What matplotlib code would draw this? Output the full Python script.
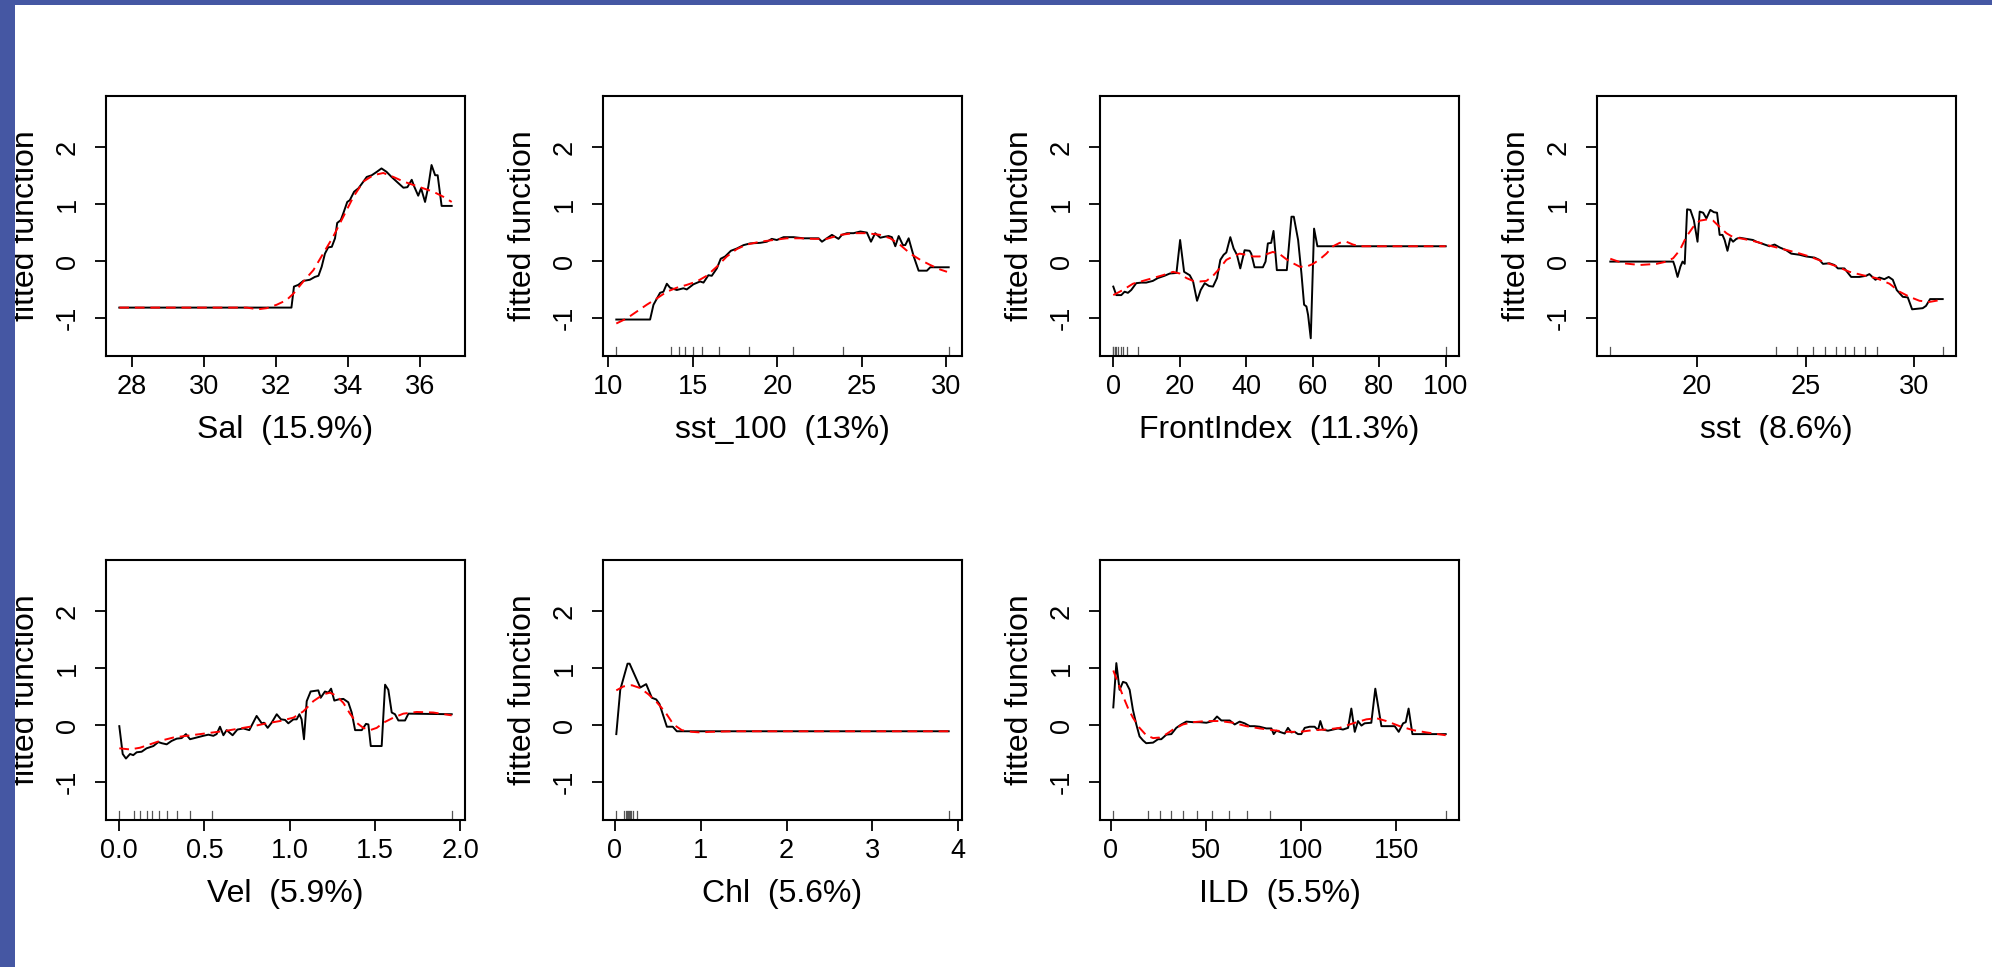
import matplotlib
matplotlib.use("Agg")
import matplotlib.pyplot as plt
from matplotlib.patches import Rectangle
import numpy as np

plt.rcParams['font.family'] = ['Liberation Sans', 'DejaVu Sans']

# ---------------- data ----------------
labels = ["Sal  (15.9%)", "sst_100  (13%)", "FrontIndex  (11.3%)", "sst  (8.6%)",
          "Vel  (5.9%)", "Chl  (5.6%)", "ILD  (5.5%)"]

xticks = [[28, 30, 32, 34, 36], [10, 15, 20, 25, 30], [0, 20, 40, 60, 80, 100],
          [20, 25, 30], [0.0, 0.5, 1.0, 1.5, 2.0], [0, 1, 2, 3, 4], [0, 50, 100, 150]]
xticklabels = [["28", "30", "32", "34", "36"], ["10", "15", "20", "25", "30"],
               ["0", "20", "40", "60", "80", "100"], ["20", "25", "30"],
               ["0.0", "0.5", "1.0", "1.5", "2.0"], ["0", "1", "2", "3", "4"],
               ["0", "50", "100", "150"]]
yticks = [-1, 0, 1, 2]

# Sal
sal_x = [27.66, 32.40, 32.44, 32.51, 32.63, 32.77, 32.95, 33.09, 33.19, 33.28, 33.37, 33.46,
         33.56, 33.65, 33.71, 33.81, 33.88, 33.99, 34.06, 34.18, 34.30, 34.44, 34.53, 34.67,
         34.81, 34.94, 35.08, 35.22, 35.41, 35.55, 35.66, 35.78, 35.85, 35.96, 36.04, 36.15,
         36.24, 36.33, 36.43, 36.50, 36.61, 36.89]
sal_y = [-0.82, -0.82, -0.82, -0.45, -0.42, -0.35, -0.33, -0.28, -0.26, -0.10, 0.13, 0.24,
         0.25, 0.40, 0.67, 0.72, 0.84, 1.04, 1.07, 1.22, 1.28, 1.40, 1.48, 1.51,
         1.57, 1.63, 1.57, 1.48, 1.37, 1.29, 1.30, 1.43, 1.31, 1.15, 1.28, 1.04,
         1.31, 1.69, 1.51, 1.51, 0.97, 0.97]
sal_sx = [27.66, 31.2, 31.5, 31.75, 32.03, 32.3, 32.5, 32.77, 33.05, 33.32, 33.6, 33.88, 34.16,
          34.44, 34.71, 34.99, 35.27, 35.55, 35.82, 36.1, 36.38, 36.66, 36.89]
sal_sy = [-0.82, -0.82, -0.85, -0.83, -0.77, -0.69, -0.57, -0.36, -0.16, 0.13, 0.43, 0.78, 1.13,
          1.40, 1.51, 1.55, 1.48, 1.40, 1.34, 1.28, 1.22, 1.13, 1.04]
sal_rug = []

# sst_100
s100_x = [10.47, 12.47, 12.67, 13.06, 13.26, 13.46, 13.65, 14.05, 14.44, 14.64, 15.03, 15.43,
          15.63, 15.92, 16.12, 16.42, 16.65, 16.91, 17.25, 17.60, 18.00, 18.39, 18.98, 19.38,
          19.67, 19.97, 20.37, 20.96, 21.55, 22.14, 22.44, 22.64, 22.93, 23.23, 23.62, 23.82,
          24.12, 24.51, 24.91, 25.30, 25.54, 25.79, 26.09, 26.39, 26.58, 26.78, 26.98, 27.18,
          27.43, 27.57, 27.77, 28.07, 28.36, 28.85, 29.05, 30.14]
s100_y = [-1.03, -1.03, -0.77, -0.56, -0.54, -0.40, -0.47, -0.51, -0.48, -0.50, -0.41, -0.36,
          -0.38, -0.25, -0.26, -0.13, 0.04, 0.08, 0.18, 0.22, 0.28, 0.31, 0.32, 0.34,
          0.39, 0.37, 0.42, 0.42, 0.40, 0.40, 0.40, 0.34, 0.40, 0.46, 0.39, 0.46,
          0.49, 0.49, 0.52, 0.50, 0.34, 0.49, 0.41, 0.43, 0.44, 0.42, 0.26, 0.44,
          0.28, 0.28, 0.40, 0.08, -0.17, -0.17, -0.11, -0.11]
s100_sx = [10.47, 11.09, 11.68, 12.27, 12.86, 13.46, 14.05, 14.64, 15.23, 15.82, 16.42, 17.01,
           17.60, 18.19, 18.98, 19.77, 20.56, 21.35, 22.14, 22.93, 23.72, 24.51, 25.30, 26.09,
           26.68, 27.28, 27.87, 28.46, 29.05, 29.64, 30.04]
s100_sy = [-1.10, -1.01, -0.89, -0.77, -0.66, -0.54, -0.47, -0.42, -0.36, -0.26, -0.10, 0.08,
           0.21, 0.29, 0.34, 0.37, 0.40, 0.40, 0.39, 0.39, 0.46, 0.49, 0.49, 0.46,
           0.40, 0.28, 0.13, 0.02, -0.07, -0.15, -0.19]
s100_rug = [10.47, 13.73, 14.17, 14.56, 14.98, 15.55, 16.55, 18.35, 20.92, 23.9, 30.14]

# FrontIndex
fi_x = [0, 0.9, 2.4, 3.4, 4.4, 5.4, 6.9, 8.4, 9.9, 11.9, 13.4, 15.4, 17.0, 19.0, 20.1, 21.3,
        23.0, 24.0, 25.2, 26.3, 27.5, 28.8, 30.0, 31.2, 32.2, 33.2, 34.0, 35.2, 36.2, 37.2,
        38.2, 39.5, 41.0, 41.5, 42.5, 45.0, 45.8, 46.5, 47.5, 48.2, 49.2, 52.2, 53.6, 54.3,
        55.6, 56.6, 57.4, 58.1, 58.6, 59.4, 60.4, 61.4, 100]
fi_y = [-0.45, -0.60, -0.60, -0.54, -0.56, -0.51, -0.39, -0.38, -0.38, -0.35, -0.30, -0.26,
        -0.22, -0.21, 0.37, -0.19, -0.25, -0.36, -0.70, -0.51, -0.39, -0.44, -0.45, -0.30,
        0.02, 0.11, 0.15, 0.42, 0.22, 0.11, -0.13, 0.19, 0.18, 0.13, -0.11, -0.11, -0.01,
        0.31, 0.32, 0.53, -0.16, -0.16, 0.78, 0.78, 0.37, -0.22, -0.77, -0.80, -0.95, -1.36,
        0.57, 0.26, 0.26]
fi_sx = [0, 2.9, 5.9, 8.9, 11.9, 14.9, 18.0, 20.0, 22.0, 24.0, 26.0, 28.0, 30.0, 32.0, 34.0,
         36.0, 38.0, 40.0, 42.0, 44.0, 46.1, 48.0, 50.1, 52.1, 54.1, 56.1, 58.1, 60.1, 62.1,
         64.1, 66.1, 68.1, 70.1, 72.1, 74.1, 100]
fi_sy = [-0.60, -0.51, -0.40, -0.35, -0.30, -0.25, -0.19, -0.22, -0.30, -0.35, -0.36, -0.35,
         -0.26, -0.13, 0.02, 0.08, 0.13, 0.11, 0.08, 0.08, 0.12, 0.16, 0.12, 0.03, -0.04,
         -0.10, -0.10, -0.05, 0.03, 0.13, 0.26, 0.32, 0.34, 0.29, 0.26, 0.26]
fi_rug = [0, 0, 0.4, 0.9, 1.5, 2.2, 2.9, 4.0, 7.3, 100]

# sst
sst_x = [16.0, 18.9, 18.97, 19.10, 19.23, 19.33, 19.43, 19.54, 19.69, 19.85, 19.94, 20.02,
         20.12, 20.28, 20.43, 20.61, 20.77, 20.92, 21.04, 21.17, 21.27, 21.40, 21.53, 21.66,
         21.81, 21.96, 22.27, 22.58, 22.73, 23.04, 23.34, 23.57, 23.80, 24.11, 24.34, 24.72,
         25.03, 25.41, 25.64, 25.80, 26.10, 26.33, 26.49, 26.79, 27.10, 27.48, 27.79, 27.94,
         28.22, 28.40, 28.63, 28.83, 29.02, 29.20, 29.48, 29.71, 29.91, 30.40, 30.55, 30.74,
         31.32]
sst_y = [-0.01, -0.01, -0.09, -0.28, -0.10, -0.01, -0.05, 0.91, 0.90, 0.72, 0.52, 0.34,
         0.87, 0.85, 0.75, 0.90, 0.86, 0.85, 0.46, 0.46, 0.37, 0.18, 0.40, 0.34,
         0.39, 0.41, 0.39, 0.37, 0.34, 0.30, 0.26, 0.29, 0.24, 0.19, 0.13, 0.11,
         0.08, 0.06, 0.02, -0.05, -0.04, -0.07, -0.13, -0.13, -0.28, -0.28, -0.26, -0.23,
         -0.33, -0.29, -0.32, -0.28, -0.33, -0.51, -0.63, -0.64, -0.85, -0.83, -0.79, -0.67,
         -0.67]
sst_sx = [16.0, 16.6, 17.36, 18.13, 18.59, 18.90, 19.20, 19.51, 19.82, 20.12, 20.43, 20.74,
          21.04, 21.35, 21.66, 22.12, 22.73, 23.34, 23.96, 24.57, 25.18, 25.80, 26.41, 27.02,
          27.64, 28.25, 28.87, 29.33, 29.79, 30.25, 30.71, 31.17]
sst_sy = [0.04, -0.04, -0.07, -0.05, -0.01, 0.05, 0.19, 0.43, 0.60, 0.71, 0.73, 0.71,
          0.60, 0.49, 0.42, 0.39, 0.34, 0.27, 0.21, 0.15, 0.08, -0.01, -0.09, -0.19,
          -0.25, -0.30, -0.40, -0.54, -0.63, -0.70, -0.72, -0.69]
sst_rug = [16.0, 23.65, 24.59, 25.34, 25.9, 26.41, 26.83, 27.24, 27.72, 28.28, 31.32]

# Vel
vel_x = [0, 0.02, 0.039, 0.063, 0.082, 0.102, 0.131, 0.160, 0.200, 0.229, 0.249, 0.278,
         0.307, 0.337, 0.366, 0.391, 0.415, 0.454, 0.493, 0.523, 0.552, 0.571, 0.591, 0.611,
         0.630, 0.665, 0.693, 0.728, 0.763, 0.806, 0.836, 0.849, 0.871, 0.894, 0.924, 0.949,
         0.973, 0.992, 1.022, 1.041, 1.057, 1.070, 1.084, 1.100, 1.123, 1.168, 1.182, 1.207,
         1.227, 1.243, 1.262, 1.286, 1.315, 1.344, 1.364, 1.384, 1.423, 1.448, 1.462, 1.476,
         1.540, 1.560, 1.579, 1.599, 1.618, 1.638, 1.677, 1.697, 1.951]
vel_y = [-0.02, -0.51, -0.59, -0.51, -0.53, -0.48, -0.47, -0.41, -0.37, -0.30, -0.32, -0.34,
         -0.28, -0.24, -0.23, -0.16, -0.25, -0.22, -0.19, -0.17, -0.19, -0.16, -0.03, -0.18,
         -0.09, -0.18, -0.08, -0.06, -0.09, 0.16, 0.03, 0.04, -0.05, 0.04, 0.19, 0.10,
         0.09, 0.03, 0.10, 0.10, 0.19, 0.10, -0.25, 0.42, 0.59, 0.61, 0.48, 0.59,
         0.57, 0.64, 0.43, 0.45, 0.46, 0.40, 0.22, -0.09, -0.09, 0.02, 0.01, -0.37,
         -0.37, 0.71, 0.62, 0.22, 0.19, 0.08, 0.08, 0.20, 0.19]
vel_sx = [0, 0.063, 0.121, 0.180, 0.239, 0.317, 0.395, 0.474, 0.552, 0.630, 0.708, 0.787,
          0.865, 0.943, 1.022, 1.080, 1.139, 1.198, 1.237, 1.276, 1.315, 1.354, 1.393, 1.432,
          1.472, 1.511, 1.550, 1.609, 1.667, 1.746, 1.843, 1.951]
vel_sy = [-0.41, -0.43, -0.40, -0.34, -0.28, -0.22, -0.19, -0.16, -0.13, -0.10, -0.06, -0.02,
          0.03, 0.07, 0.13, 0.24, 0.42, 0.54, 0.57, 0.51, 0.39, 0.20, 0.04, -0.05,
          -0.09, -0.05, 0.04, 0.13, 0.20, 0.23, 0.22, 0.17]
vel_rug = [0, 0.088, 0.123, 0.16, 0.194, 0.233, 0.282, 0.34, 0.417, 0.542, 1.951]

# Chl
chl_x = [0.016, 0.062, 0.147, 0.171, 0.295, 0.364, 0.430, 0.481, 0.519, 0.605, 0.674, 0.721, 3.888]
chl_y = [-0.16, 0.62, 1.08, 1.08, 0.66, 0.72, 0.48, 0.45, 0.37, -0.03, -0.03, -0.11, -0.11]
chl_sx = [0.016, 0.101, 0.198, 0.295, 0.391, 0.488, 0.585, 0.682, 0.779, 0.895, 0.992, 1.109,
          1.38, 3.888]
chl_sy = [0.61, 0.68, 0.70, 0.65, 0.54, 0.40, 0.23, 0.01, -0.09, -0.12, -0.13, -0.12,
          -0.11, -0.11]
chl_rug = [0.016, 0.11, 0.125, 0.14, 0.15, 0.16, 0.175, 0.19, 0.21, 0.26, 3.89]

# ILD
ild_x = [1.4, 3.0, 4.7, 6.5, 8.2, 10.0, 11.7, 13.5, 15.2, 17.0, 18.7, 22.3, 24.9, 26.6, 29.3,
         31.9, 34.5, 37.1, 39.8, 43.3, 46.8, 50.3, 53.8, 55.9, 58.2, 62.6, 65.2, 67.8, 70.4,
         73.1, 75.7, 78.3, 81.8, 84.5, 85.7, 87.1, 89.7, 91.5, 93.2, 95.0, 96.7, 98.5, 100.2,
         102.0, 104.6, 107.2, 109.0, 110.2, 111.6, 114.2, 116.9, 119.5, 122.1, 124.8, 126.5,
         128.3, 130.0, 131.8, 133.5, 137.0, 139.1, 142.3, 149.3, 151.4, 153.7, 155.1, 156.6,
         158.6, 176.1]
ild_y = [0.31, 1.09, 0.62, 0.76, 0.74, 0.62, 0.27, 0.01, -0.20, -0.27, -0.32, -0.31, -0.25,
         -0.25, -0.17, -0.16, -0.05, 0.01, 0.06, 0.05, 0.05, 0.04, 0.07, 0.15, 0.08, 0.08,
         0.01, 0.06, 0.03, -0.02, -0.02, -0.03, -0.06, -0.06, -0.16, -0.10, -0.13, -0.15,
         -0.05, -0.13, -0.12, -0.16, -0.16, -0.05, -0.03, -0.03, -0.09, 0.07, -0.08, -0.10,
         -0.08, -0.06, -0.08, -0.05, 0.29, -0.12, 0.07, -0.01, 0.03, 0.04, 0.64, -0.02, -0.02,
         -0.12, 0.03, 0.05, 0.29, -0.16, -0.16]
ild_sx = [1.4, 3.9, 6.5, 9.1, 11.7, 15.2, 18.7, 22.3, 25.8, 29.3, 32.8, 38.0, 43.3, 50.3, 57.3,
          64.3, 71.3, 78.3, 85.3, 92.3, 99.4, 106.4, 113.4, 120.4, 127.4, 134.4, 139.7, 144.9,
          151.9, 158.9, 165.9, 176.1]
ild_sy = [0.96, 0.74, 0.51, 0.30, 0.13, -0.05, -0.18, -0.23, -0.22, -0.16, -0.08, 0.01, 0.05,
          0.07, 0.07, 0.04, -0.02, -0.06, -0.09, -0.12, -0.12, -0.09, -0.08, -0.05, 0.03, 0.10,
          0.12, 0.07, -0.02, -0.09, -0.13, -0.18]
ild_rug = [1.4, 19.6, 26.1, 31.7, 38.2, 45.4, 53.3, 62.1, 71.7, 83.8, 176.1]

fits = [(sal_x, sal_y), (s100_x, s100_y), (fi_x, fi_y), (sst_x, sst_y),
        (vel_x, vel_y), (chl_x, chl_y), (ild_x, ild_y)]
smooths = [(sal_sx, sal_sy), (s100_sx, s100_sy), (fi_sx, fi_sy), (sst_sx, sst_sy),
           (vel_sx, vel_sy), (chl_sx, chl_sy), (ild_sx, ild_sy)]
rugs = [sal_rug, s100_rug, fi_rug, sst_rug, vel_rug, chl_rug, ild_rug]

# ---------------- figure ----------------
W, H = 1992, 967
fig = plt.figure(figsize=(W / 100, H / 100), dpi=100)
fig.patch.set_facecolor('white')

col_left = [106, 603, 1100, 1597]
row_top = [96, 560]
box_w, box_h = 359, 260

for i in range(7):
    r, c = divmod(i, 4)
    left = col_left[c] / W
    bottom = 1 - (row_top[r] + box_h) / H
    ax = fig.add_axes([left, bottom, box_w / W, box_h / H])
    fx, fy = fits[i]
    sx, sy = smooths[i]
    ax.plot(fx, fy, color='black', lw=1.4, zorder=3)
    ax.plot(sx, sy, color='#FF0000', lw=1.4, dashes=(5, 3), zorder=4)
    for v in rugs[i]:
        ax.axvline(v, ymin=0, ymax=0.035, color='#555555', lw=0.9, zorder=2)
    lo, hi = min(fx), max(fx)
    pad = 0.04 * (hi - lo)
    ax.set_xlim(lo - pad, hi + pad)
    ax.set_ylim(-1.672, 2.905)
    ax.set_xticks(xticks[i])
    ax.set_xticklabels(xticklabels[i])
    ax.set_yticks(yticks)
    ax.set_yticklabels([str(v) for v in yticks], rotation=90, va='center')
    ax.tick_params(axis='both', direction='out', length=8, width=1.3,
                   labelsize=19.5, color='black')
    ax.tick_params(axis='x', pad=5)
    ax.tick_params(axis='y', pad=10)
    for sp in ax.spines.values():
        sp.set_linewidth(1.5)
    ax.set_xlabel(labels[i], fontsize=23)
    ax.xaxis.set_label_coords(0.5, -0.285)
    ax.xaxis.label.set_va('center')
    ax.set_ylabel("fitted function", fontsize=23)
    ax.yaxis.set_label_coords(-0.223, 0.5)
    ax.yaxis.label.set_va('center')

# blue frame (top and left)
fig.patches.append(Rectangle((0, 1 - 5 / H), 1, 5 / H, transform=fig.transFigure,
                             facecolor='#4557A3', edgecolor='none', zorder=10))
fig.patches.append(Rectangle((0, 0), 15 / W, 1, transform=fig.transFigure,
                             facecolor='#4557A3', edgecolor='none', zorder=10))

fig.savefig('out.png', dpi=100)
